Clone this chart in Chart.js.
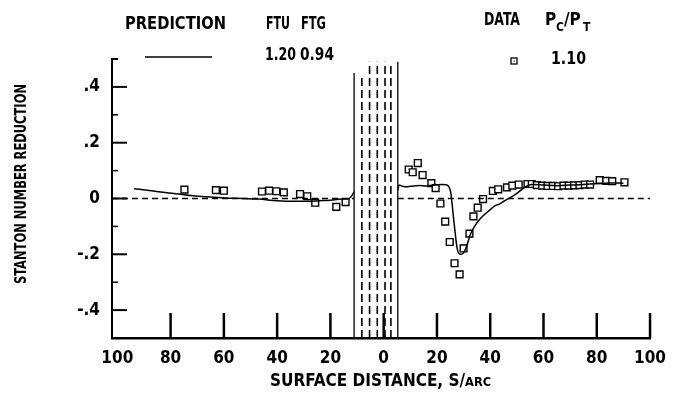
<!DOCTYPE html>
<html><head><meta charset="utf-8">
<script src="https://cdn.jsdelivr.net/npm/chart.js@4.4.1/dist/chart.umd.min.js"></script>
<style>html,body{margin:0;padding:0;background:#fff;}#wrap{width:676px;height:397px;}</style>
</head><body><div id="wrap"><canvas id="c" width="676" height="397"></canvas></div>
<script>
const FONT = "'DejaVu Sans Condensed','Liberation Sans Narrow','DejaVu Sans',sans-serif";

// axis ticks
const xTickValues = [-100, -80, -60, -40, -20, 0, 20, 40, 60, 80, 100];
const yTickValues = [-0.4, -0.2, 0, 0.2, 0.4];
const yMinorTicks = [-0.3, -0.1, 0.1, 0.3];
const xMin = -102, xMax = 100, yMin = -0.5, yMax = 0.5;

// prediction (solid line), pressure side (negative S) and suction side
const predPressS = [-93.7, -88, -83.7, -77, -71.5, -65, -59.5, -53, -47, -40, -34, -29, -24, -20, -16, -13, -11.8, -11.1];
const predPressY = [0.035, 0.029, 0.023, 0.016, 0.01, 0.005, 0.002, 0.0, -0.002, -0.008, -0.01, -0.01, -0.008, -0.006, -0.002, 0.0, 0.012, 0.025];
const predSuctS = [5.3, 5.8, 7, 9, 11, 13.5, 16, 18, 20, 22, 23.5, 24.6, 25.2, 26.4, 27.6, 28.3, 29, 30, 31, 32.5, 34.3, 36, 38, 40, 41.6, 43.4, 45.3, 48, 50, 51.8, 53.5, 55.5, 60, 65, 70, 75, 80, 85, 90];
const predSuctY = [0.03, 0.048, 0.044, 0.042, 0.045, 0.047, 0.045, 0.047, 0.049, 0.05, 0.049, 0.04, 0.02, -0.085, -0.18, -0.198, -0.2, -0.195, -0.175, -0.13, -0.097, -0.075, -0.056, -0.04, -0.027, -0.02, -0.009, 0.006, 0.018, 0.032, 0.043, 0.05, 0.048, 0.046, 0.048, 0.05, 0.054, 0.056, 0.055];

// data points (squares)
const dataPressS = [-74.8, -63, -60, -45.7, -43, -40.3, -37.5, -31.4, -28.7, -25.7, -17.8, -14.3];
const dataPressY = [0.032, 0.03, 0.028, 0.025, 0.028, 0.026, 0.022, 0.016, 0.008, -0.015, -0.03, -0.013];
const dataSuctS = [9.4, 10.9, 12.8, 14.6, 17.9, 19.5, 21.3, 23.1, 24.8, 26.6, 28.5, 30.0, 32.2, 33.7, 35.3, 37.3, 41, 43, 46.3, 48.3, 50.7, 54, 55.6, 57.5, 59.5, 61.5, 63.5, 65.5, 67.5, 69.5, 71.5, 73.5, 75.5, 77.5, 81.1, 83.6, 85.8, 90.4];
const dataSuctY = [0.104, 0.094, 0.127, 0.084, 0.055, 0.037, -0.018, -0.083, -0.156, -0.232, -0.272, -0.179, -0.126, -0.064, -0.033, -0.002, 0.027, 0.033, 0.04, 0.046, 0.05, 0.052, 0.052, 0.048, 0.046, 0.045, 0.045, 0.044, 0.046, 0.046, 0.047, 0.048, 0.05, 0.05, 0.066, 0.063, 0.062, 0.058];

// blade region vertical lines
const solidBladeS = [-11.1, 5.3];
const solidBladeTop = [0.45, 0.49];
const dashedBladeS = [-8.2, -5.3, -2.4, 0.5, 2.7];
const dashedBladeTop = [0.44, 0.49, 0.49, 0.49, 0.48];

// zero reference line segments
const zeroLeft = [xMin, -11.1];
const zeroRight = [5.3, xMax];

const pts = (xs, ys) => xs.map((v, i) => ({x: v, y: ys[i]}));
const vline = (s, top) => [{x: s, y: yMin}, {x: s, y: top}];

const datasets = [];
datasets.push({data: zeroLeft.map(v => ({x: v, y: 0})), showLine: true, borderColor: '#000', borderWidth: 1.5, borderDash: [6, 4], pointRadius: 0});
datasets.push({data: zeroRight.map(v => ({x: v, y: 0})), showLine: true, borderColor: '#000', borderWidth: 1.5, borderDash: [6, 4], pointRadius: 0});
solidBladeS.forEach((s, i) => datasets.push({data: vline(s, solidBladeTop[i]), showLine: true, borderColor: '#000', borderWidth: 1.3, pointRadius: 0}));
dashedBladeS.forEach((s, i) => datasets.push({data: vline(s, dashedBladeTop[i]), showLine: true, borderColor: '#000', borderWidth: 1.6, borderDash: [8, 4], pointRadius: 0}));
datasets.push({data: pts(predPressS, predPressY), showLine: true, borderColor: '#000', borderWidth: 1.5, pointRadius: 0, cubicInterpolationMode: 'monotone'});
datasets.push({data: pts(predSuctS, predSuctY), showLine: true, borderColor: '#000', borderWidth: 1.5, pointRadius: 0, cubicInterpolationMode: 'monotone'});
[[dataPressS, dataPressY], [dataSuctS, dataSuctY]].forEach(([xs, ys]) => {
  datasets.push({data: pts(xs, ys), showLine: false, pointStyle: 'rect', pointRadius: 4.8, backgroundColor: '#fff', borderColor: '#000', pointBorderWidth: 1.4});
  datasets.push({data: pts(xs, ys), showLine: false, pointStyle: 'circle', pointRadius: 0.8, backgroundColor: '#000', borderColor: '#000', pointBorderWidth: 0});
});

function txt(ctx, s, x, y, size, maxW, align) {
  ctx.font = 'bold ' + size + 'px ' + FONT;
  ctx.textAlign = align || 'left';
  ctx.textBaseline = 'middle';
  if (maxW) ctx.fillText(s, x, y, maxW); else ctx.fillText(s, x, y);
  const w = ctx.measureText(s).width;
  return maxW ? Math.min(w, maxW) : w;
}

const deco = {
  id: 'deco',
  afterDraw(chart) {
    const {ctx, scales: {x, y}} = chart;
    ctx.save();
    ctx.strokeStyle = '#000'; ctx.fillStyle = '#000'; ctx.lineCap = 'butt';
    const yb = y.getPixelForValue(yMin);
    const xl = x.getPixelForValue(xMin);
    const ln = (a, b, c, d, w) => { ctx.lineWidth = w; ctx.beginPath(); ctx.moveTo(a, b); ctx.lineTo(c, d); ctx.stroke(); };
    xTickValues.forEach(v => { if (v === -100) return; const px = x.getPixelForValue(v); ln(px, yb, px, yb - 25, 2.5); });
    yTickValues.forEach(v => { const py = y.getPixelForValue(v); ln(xl, py, xl + 15, py, 2); });
    yMinorTicks.forEach(v => { const py = y.getPixelForValue(v); ln(xl, py, xl + 6, py, 1.5); });
    ln(xl, y.getPixelForValue(yMax), xl + 6, y.getPixelForValue(yMax), 2);

    // legend
    txt(ctx, 'PREDICTION', 125, 25, 17, 101);
    txt(ctx, 'FTU', 266, 25, 17, 24);
    txt(ctx, 'FTG', 301, 25, 17, 25);
    txt(ctx, 'DATA', 484, 21, 17, 36);
    txt(ctx, 'P', 545, 21, 17);
    txt(ctx, 'C', 556, 28, 12);
    txt(ctx, '/P', 564, 21, 17);
    txt(ctx, 'T', 583, 28, 12);
    ln(145, 57, 212, 57, 1.5);
    txt(ctx, '1.20', 265, 56, 17, 31);
    txt(ctx, '0.94', 300, 56, 17, 34);
    ctx.fillStyle = '#fff'; ctx.fillRect(511, 58, 6, 6); ctx.fillStyle = '#000';
    ctx.lineWidth = 1.3; ctx.strokeRect(511, 58, 6, 6);
    ctx.fillRect(513.5, 60.5, 1.2, 1.2);
    txt(ctx, '1.10', 551, 60, 17, 35);

    // x axis title
    const w = txt(ctx, 'SURFACE DISTANCE, S/', 270, 382, 17, 200);
    txt(ctx, 'ARC', 270 + w, 383, 13, 26);

    // y axis title
    ctx.save();
    ctx.translate(22, 184);
    ctx.rotate(-Math.PI / 2);
    txt(ctx, 'STANTON NUMBER REDUCTION', 0, 0, 16, 200, 'center');
    ctx.restore();
    ctx.restore();
  }
};

new Chart(document.getElementById('c'), {
  type: 'scatter',
  data: {datasets},
  options: {
    responsive: false, animation: false, devicePixelRatio: 1,
    layout: {padding: {left: 0, top: 59, right: 19, bottom: 0}},
    plugins: {legend: {display: false}, tooltip: {enabled: false}},
    scales: {
      x: {
        type: 'linear', min: xMin, max: xMax,
        afterBuildTicks: s => { s.ticks = xTickValues.map(v => ({value: v})); },
        afterFit: s => { s.height = 59; },
        grid: {display: false, drawTicks: false},
        border: {display: true, color: '#000', width: 2.5},
        ticks: {callback: v => String(Math.abs(v)), color: '#000', font: {family: FONT, size: 17, weight: 'bold'}, padding: 10, maxRotation: 0, autoSkip: false}
      },
      y: {
        min: yMin, max: yMax,
        afterBuildTicks: s => { s.ticks = yTickValues.map(v => ({value: v})); },
        afterFit: s => { s.width = 112; },
        grid: {display: false, drawTicks: false},
        border: {display: true, color: '#000', width: 2},
        ticks: {callback: v => v === 0 ? '0' : (v < 0 ? '-' : '') + String(Math.abs(v)).replace(/^0/, ''), color: '#000', font: {family: FONT, size: 17, weight: 'bold'}, padding: 12, autoSkip: false}
      }
    }
  },
  plugins: [deco]
});
</script></body></html>
